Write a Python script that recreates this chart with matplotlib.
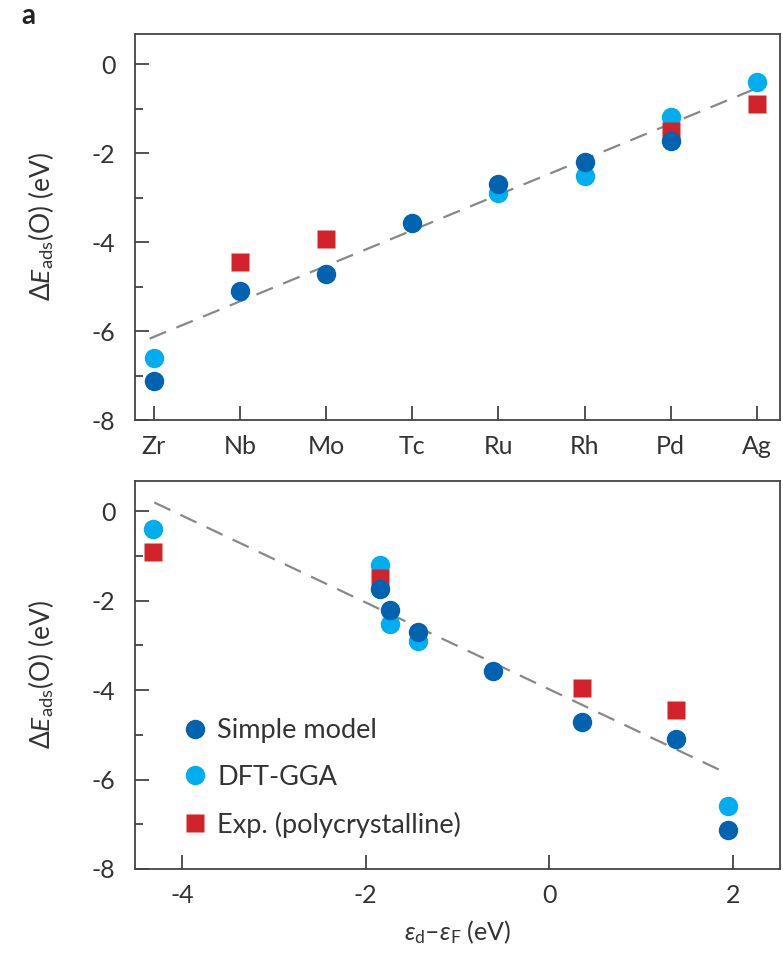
import numpy as np
import matplotlib
matplotlib.use('Agg')
import matplotlib.pyplot as plt
from matplotlib.ticker import MultipleLocator

plt.rcParams['font.family'] = ['Lato', 'DejaVu Sans']
plt.rcParams['mathtext.fontset'] = 'custom'
plt.rcParams['mathtext.rm'] = 'Lato'
plt.rcParams['mathtext.it'] = 'Lato:italic'

# data (4d metals)
metals = ['Zr', 'Nb', 'Mo', 'Tc', 'Ru', 'Rh', 'Pd', 'Ag']
eps_d = [1.94, 1.38, 0.35, -0.61, -1.43, -1.74, -1.84, -4.31]   # eV, d-band centre
simple = [-7.13, -5.10, -4.72, -3.58, -2.70, -2.20, -1.73, np.nan]
dft = [-6.60, np.nan, np.nan, np.nan, -2.89, -2.52, -1.19, -0.39]
expt = [np.nan, -4.45, -3.94, np.nan, np.nan, np.nan, -1.49, -0.90]

# dashed linear fits (end points)
fit_top_x = [-0.05, 6.95]
fit_top_y = [-6.17, -0.58]
fit_bot_x = [-4.30, 1.89]
fit_bot_y = [0.20, -5.82]

dark = '#0063af'
light = '#00aeef'
red = '#d2232a'
gray = '#444444'

fig = plt.figure(figsize=(7.83, 9.55), dpi=100)
ax1 = fig.add_axes([0.1724, 0.5602, 0.8238, 0.4042])
ax2 = fig.add_axes([0.1724, 0.0901, 0.8238, 0.4062])

xi = np.arange(len(metals))

def style(ax):
    for s in ax.spines.values():
        s.set_color(gray)
        s.set_linewidth(1.3)
    ax.yaxis.set_major_locator(MultipleLocator(2))
    ax.yaxis.set_minor_locator(MultipleLocator(1))
    ax.tick_params(axis='both', which='major', direction='in', length=10, width=1.3,
                   color=gray, labelsize=18, labelcolor='#333333')
    ax.tick_params(axis='y', which='major', pad=14)
    ax.tick_params(axis='x', which='major', pad=11)
    ax.tick_params(axis='y', which='minor', direction='in', length=6, width=1.3, color=gray)
    ax.tick_params(top=False, right=False)
    ax.set_ylim(-8, 0.68)
    ax.set_ylabel(r'$\Delta E_{\mathrm{ads}}$(O) (eV)', fontsize=19, color='#333333', labelpad=26)
    ax.set_yticks([0, -2, -4, -6, -8])
    ax.set_yticklabels(['0', '-2', '-4', '-6', '-8'])

ms = 14
# top panel: vs element
ax1.plot(fit_top_x, fit_top_y, '--', color='#888888', lw=1.6, dashes=(8, 5), zorder=1)
ax1.plot(xi, dft, 'o', color=light, ms=ms, mec='none', zorder=2)
ax1.plot(xi, expt, 's', color=red, ms=ms - 1, mec='none', zorder=3)
ax1.plot(xi, simple, 'o', color=dark, ms=ms, mec='none', zorder=4)
ax1.set_xticks(xi)
ax1.set_xticklabels(metals)
ax1.set_xlim(-0.22, 7.27)
style(ax1)

# bottom panel: vs d-band centre
ax2.plot(fit_bot_x, fit_bot_y, '--', color='#888888', lw=1.6, dashes=(8, 5), zorder=1)
ax2.plot(eps_d, dft, 'o', color=light, ms=ms, mec='none', zorder=2, label='DFT-GGA')
ax2.plot(eps_d, expt, 's', color=red, ms=ms - 1, mec='none', zorder=3, label='Exp. (polycrystalline)')
ax2.plot(eps_d, simple, 'o', color=dark, ms=ms, mec='none', zorder=4, label='Simple model')
ax2.set_xlim(-4.51, 2.51)
ax2.set_xticks([-4, -2, 0, 2])
ax2.set_xticklabels(['-4', '-2', '0', '2'])
style(ax2)
ax2.set_xlabel(r'$\varepsilon_{\mathrm{d}}$–$\varepsilon_{\mathrm{F}}$ (eV)', fontsize=18,
               color='#333333', labelpad=8)

h, l = ax2.get_legend_handles_labels()
ax2.legend([h[2], h[0], h[1]], [l[2], l[0], l[1]], loc='lower left',
           bbox_to_anchor=(0.035, 0.018), frameon=False, fontsize=19.5,
           handletextpad=0.3, labelspacing=0.8, handlelength=1.0,
           labelcolor='#333333')

fig.text(0.027, 0.975, 'a', fontsize=20, fontweight='bold', color='#222222')

fig.savefig('out.png', dpi=100)
